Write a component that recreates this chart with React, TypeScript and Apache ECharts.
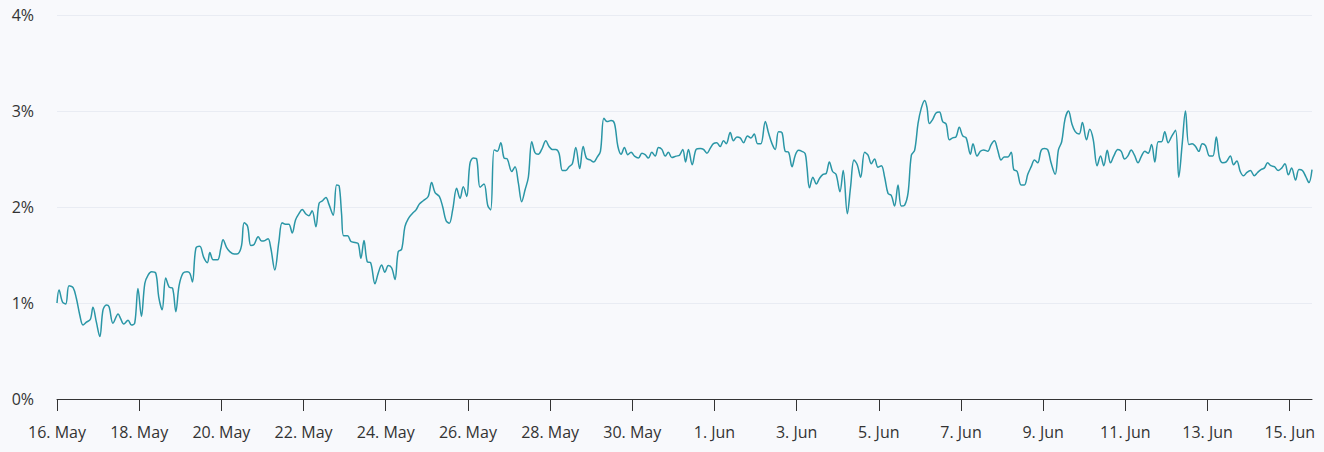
import React, { useEffect, useRef } from "react";
import * as echarts from "echarts";

// hours since 16 May 00:00
const hours = [
  0, 1.2, 3.2, 5.1, 7.0, 9.4, 11.3, 13.3, 15.2, 17.2, 19.5, 21.0, 23.0, 25.0, 26.9, 28.9, 30.4, 32.7, 35.7, 37.1,
  39.0, 41.5, 43.5, 45.4, 47.3, 49.3, 51.3, 53.2, 55.2, 57.7, 59.4, 61.4, 63.5, 65.5, 67.5, 69.4, 71.3, 73.6, 76.0, 77.6,
  79.1, 81.1, 83.4, 85.7, 87.8, 89.3, 91.2, 93.8, 95.7, 97.0, 99.0, 100.9, 103.5, 105.8, 107.8, 109.3, 111.3, 113.2, 115.1, 117.5,
  119.5, 121.4, 123.3, 124.9, 127.2, 129.6, 131.5, 133.5, 135.4, 137.4, 139.3, 141.3, 143.2, 145.2, 147.1, 149.0, 151.2, 153.1, 155.1, 157.1,
  158.8, 161.3, 163.3, 164.8, 166.2, 167.4, 169.7, 171.7, 174.0, 175.9, 177.5, 179.3, 181.2, 183.2, 185.7, 187.6, 189.6, 191.5, 193.5, 195.5,
  197.4, 199.3, 201.3, 203.2, 205.2, 207.7, 209.7, 211.6, 213.9, 216.8, 218.8, 220.8, 223.3, 225.3, 227.2, 229.1, 231.1, 233.4, 235.4, 237.3,
  239.3, 241.2, 243.2, 245.1, 247.1, 249.4, 251.6, 253.3, 255.3, 257.2, 259.2, 261.1, 263.0, 265.6, 267.5, 269.5, 271.4, 273.4, 275.3, 277.3,
  279.2, 281.1, 283.1, 285.5, 287.4, 289.3, 291.3, 293.2, 295.2, 297.2, 299.1, 301.0, 303.0, 305.3, 307.3, 309.2, 311.4, 313.5, 315.5, 317.4,
  319.4, 321.3, 323.6, 325.6, 327.6, 329.5, 331.4, 333.4, 335.3, 337.3, 339.6, 341.6, 343.5, 345.4, 347.4, 349.4, 351.3, 353.3, 355.2, 357.1,
  359.1, 361.6, 363.6, 365.5, 367.1, 368.8, 371.0, 373.3, 375.7, 377.6, 379.6, 381.5, 383.4, 385.4, 387.3, 389.3, 390.9, 393.2, 395.1, 397.1,
  399.0, 401.0, 403.3, 405.3, 407.2, 409.2, 411.1, 413.7, 415.6, 417.6, 419.5, 421.4, 423.4, 425.3, 427.3, 429.3, 431.2, 433.1, 435.1, 437.0,
  438.0, 439.5, 441.5, 443.5, 445.4, 447.4, 449.3, 451.1, 453.0, 455.0, 457.3, 459.2, 461.6, 463.5, 465.5, 467.4, 469.4, 471.7, 473.7, 475.6,
  477.5, 479.5, 481.5, 483.4, 485.4, 487.3, 489.2, 491.2, 493.1, 495.1, 497.1, 499.0, 500.9, 502.9, 504.8, 506.8, 508.2, 509.5, 511.4, 513.4,
  515.4, 517.3, 519.3, 521.2, 523.1, 525.1, 527.0, 529.0, 531.0, 533.5, 535.0, 537.4, 539.3, 541.2, 543.6, 545.6, 547.5, 549.4, 551.4, 553.3,
  555.3, 557.3, 558.8, 560.8, 563.1, 565.0, 567.0, 569.0, 570.9, 572.8, 574.8, 576.7, 578.7, 580.6, 583.0, 584.9, 586.8, 588.8, 590.8, 592.7,
  594.7, 597.0, 598.9, 601.3, 603.2, 605.2, 607.5, 609.5, 611.4, 613.4, 615.3, 617.2, 619.6, 621.6, 623.5, 625.4, 627.4, 629.3, 631.4, 633.4,
  635.3, 637.3, 639.3, 641.2, 643.2, 645.1, 647.0, 649.0, 650.9, 653.3, 655.2, 657.2, 659.1, 661.1, 663.0, 665.0, 666.9, 668.9, 670.8, 673.2,
  675.1, 677.1, 679.0, 680.9, 682.9, 685.3, 687.2, 689.1, 691.1, 693.0, 695.0, 697.0, 699.3, 701.2, 703.2, 705.1, 707.1, 709.0, 711.0, 713.3,
  715.3, 717.2, 719.2, 721.1, 723.4, 725.4, 727.4, 729.3, 731.2, 733.0,
];

// percent values
const values = [
  1.0, 1.135, 1.01, 0.99, 1.18, 1.16, 1.05, 0.875, 0.77, 0.8, 0.83, 0.955, 0.8, 0.65, 0.93, 0.98, 0.96, 0.79, 0.885, 0.84,
  0.78, 0.82, 0.77, 0.79, 1.15, 0.86, 1.205, 1.29, 1.325, 1.31, 1.065, 0.93, 1.26, 1.165, 1.155, 0.91, 1.18, 1.31, 1.325, 1.31,
  1.22, 1.57, 1.59, 1.475, 1.42, 1.525, 1.45, 1.45, 1.57, 1.66, 1.58, 1.535, 1.51, 1.515, 1.6, 1.835, 1.8, 1.6, 1.61, 1.69,
  1.645, 1.65, 1.67, 1.57, 1.345, 1.64, 1.835, 1.82, 1.82, 1.73, 1.865, 1.93, 1.975, 1.93, 1.91, 1.96, 1.795, 2.04, 2.065, 2.1,
  2.03, 1.915, 2.23, 2.22, 1.93, 1.7, 1.7, 1.64, 1.63, 1.62, 1.465, 1.65, 1.43, 1.42, 1.2, 1.31, 1.395, 1.32, 1.39, 1.365,
  1.245, 1.535, 1.56, 1.795, 1.88, 1.935, 1.97, 2.03, 2.065, 2.11, 2.255, 2.15, 2.11, 2.0, 1.86, 1.83, 1.97, 2.195, 2.09, 2.21,
  2.11, 2.455, 2.51, 2.5, 2.205, 2.24, 2.015, 1.97, 2.595, 2.58, 2.67, 2.51, 2.5, 2.37, 2.42, 2.245, 2.055, 2.18, 2.31, 2.68,
  2.565, 2.55, 2.6, 2.69, 2.63, 2.6, 2.6, 2.56, 2.38, 2.38, 2.42, 2.45, 2.62, 2.4, 2.63, 2.51, 2.49, 2.47, 2.52, 2.58,
  2.925, 2.89, 2.9, 2.87, 2.63, 2.55, 2.62, 2.545, 2.57, 2.53, 2.51, 2.56, 2.545, 2.51, 2.57, 2.53, 2.62, 2.6, 2.53, 2.57,
  2.515, 2.53, 2.54, 2.6, 2.47, 2.6, 2.44, 2.6, 2.61, 2.6, 2.56, 2.61, 2.66, 2.67, 2.63, 2.69, 2.66, 2.775, 2.69, 2.73,
  2.72, 2.67, 2.74, 2.72, 2.76, 2.66, 2.66, 2.89, 2.77, 2.66, 2.6, 2.785, 2.775, 2.58, 2.57, 2.42, 2.54, 2.59, 2.58, 2.555,
  2.42, 2.2, 2.31, 2.24, 2.3, 2.34, 2.35, 2.47, 2.37, 2.34, 2.16, 2.38, 1.93, 2.21, 2.49, 2.44, 2.31, 2.57, 2.54, 2.45,
  2.5, 2.415, 2.43, 2.31, 2.14, 2.12, 2.01, 2.23, 2.01, 2.02, 2.15, 2.54, 2.59, 2.87, 3.03, 3.11, 3.03, 2.87, 2.91, 2.98,
  2.99, 2.89, 2.865, 2.7, 2.72, 2.73, 2.83, 2.74, 2.72, 2.55, 2.66, 2.53, 2.58, 2.595, 2.58, 2.65, 2.69, 2.595, 2.49, 2.52,
  2.52, 2.57, 2.39, 2.37, 2.23, 2.23, 2.34, 2.42, 2.49, 2.46, 2.59, 2.61, 2.595, 2.46, 2.34, 2.595, 2.68, 2.92, 3.0, 2.87,
  2.785, 2.76, 2.88, 2.7, 2.81, 2.705, 2.43, 2.53, 2.43, 2.59, 2.46, 2.53, 2.6, 2.58, 2.5, 2.53, 2.595, 2.54, 2.46, 2.53,
  2.58, 2.56, 2.65, 2.47, 2.68, 2.68, 2.785, 2.67, 2.73, 2.8, 2.31, 2.66, 3.0, 2.65, 2.66, 2.63, 2.58, 2.66, 2.64, 2.53,
  2.53, 2.73, 2.51, 2.46, 2.47, 2.53, 2.44, 2.48, 2.37, 2.325, 2.36, 2.38, 2.325, 2.36, 2.39, 2.405, 2.46, 2.43, 2.42, 2.38,
  2.405, 2.45, 2.335, 2.405, 2.28, 2.39, 2.38, 2.32, 2.255, 2.39,
];

const xTickLabels = [
  "16. May", "18. May", "20. May", "22. May", "24. May", "26. May", "28. May", "30. May",
  "1. Jun", "3. Jun", "5. Jun", "7. Jun", "9. Jun", "11. Jun", "13. Jun", "15. Jun",
];
const xTickStepHours = 48;
const xMaxHours = 733;
const yTicks = [0, 1, 2, 3, 4];

export default function App() {
  const ref = useRef<HTMLDivElement>(null);

  useEffect(() => {
    if (!ref.current) return;
    const chart = echarts.init(ref.current, undefined, { renderer: "svg" });
    const tickValues = xTickLabels.map((_, i) => i * xTickStepHours);
    const data = hours.map((h, i) => [h, values[i]]);
    const font = "'Open Sans', 'Noto Sans', sans-serif";
    chart.setOption({
      animation: false,
      backgroundColor: "#f8f9fc",
      grid: { left: 57, right: 12, top: 15, bottom: 53, containLabel: false },
      xAxis: {
        type: "value",
        min: 0,
        max: xMaxHours,
        axisLine: { show: true, lineStyle: { color: "#333333", width: 1 } },
        axisTick: {
          show: true,
          length: 12,
          lineStyle: { color: "#333333", width: 1 },
          customValues: tickValues,
        },
        axisLabel: {
          customValues: tickValues,
          formatter: (v: number) => xTickLabels[Math.round(v / xTickStepHours)] ?? "",
          color: "#333333",
          fontSize: 16,
          fontFamily: font,
          margin: 25,
        },
        splitLine: { show: false },
      },
      yAxis: {
        type: "value",
        min: yTicks[0],
        max: yTicks[yTicks.length - 1],
        interval: 1,
        axisLine: { show: false },
        axisTick: { show: false },
        axisLabel: {
          formatter: "{value}%",
          color: "#333333",
          fontSize: 16,
          fontFamily: font,
          margin: 23,
        },
        splitLine: { show: true, lineStyle: { color: "#e9ecf3", width: 1 } },
      },
      series: [
        {
          type: "line",
          data,
          showSymbol: false,
          smooth: 0.35,
          lineStyle: { color: "#2a96a6", width: 1.5 },
          itemStyle: { color: "#2a96a6" },
        },
      ],
    });
    return () => chart.dispose();
  }, []);

  return (
    <div
      ref={ref}
      style={{ position: "absolute", left: 0, top: 0, width: 1324, height: 452 }}
    />
  );
}
